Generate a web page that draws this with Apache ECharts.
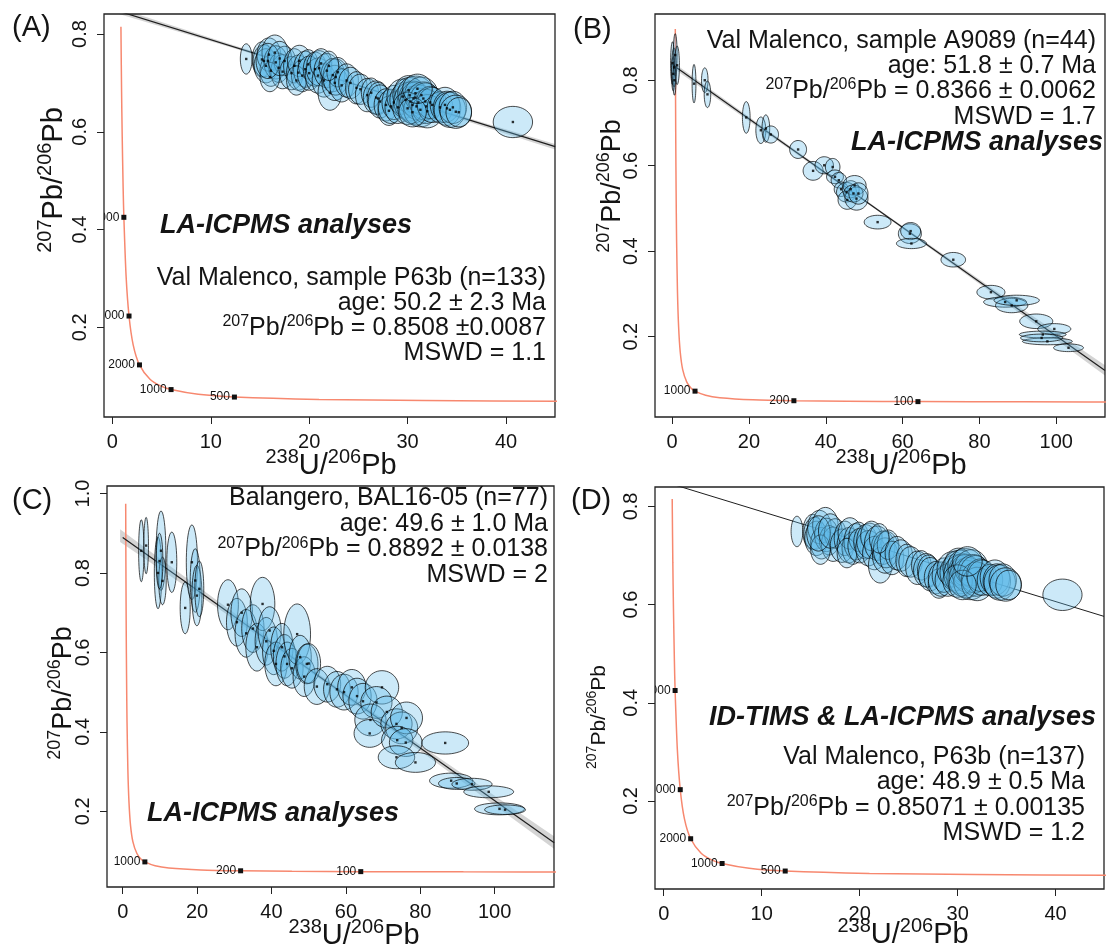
<!DOCTYPE html>
<html>
<head>
<meta charset="utf-8">
<script src="https://cdn.jsdelivr.net/npm/echarts@6/dist/echarts.min.js"></script>
<style>
  html, body { margin: 0; padding: 0; background: #fff; }
  #chart { width: 1106px; height: 949px; }
</style>
</head>
<body>
<div id="chart"></div>
<script>
// concordia curve (238U/206Pb, 207Pb/206Pb)
var concX = [0.806, 0.825, 0.853, 0.866, 0.878, 0.93, 0.99, 1.089, 1.163, 1.387, 1.688, 2.11, 2.75, 3.82, 4.89, 5.96, 8.72, 12.4, 21.0, 31.7, 45.5, 64.0, 91.6, 128.4];
var concY = [0.974, 0.920, 0.845, 0.815, 0.788, 0.685, 0.597, 0.486, 0.425, 0.306, 0.223, 0.164, 0.123, 0.0936, 0.080, 0.0725, 0.0628, 0.0572, 0.0523, 0.0501, 0.0488, 0.048, 0.0474, 0.047];

// age marks on the concordia (Ma)
var markAge = [4000, 3000, 2000, 1000, 500, 200, 100];
var markX = [1.163, 1.688, 2.75, 5.96, 12.4, 31.7, 64.0];
var markY = [0.425, 0.223, 0.123, 0.0725, 0.0572, 0.0501, 0.048];

// discordia lines (two ends) and their grey envelopes
var regAX = [0, 45], regAY = [0.8508, 0.5695];
var regBX = [0, 112.7], regBY = [0.8366, 0.121];
var regCX = [0, 116], regCY = [0.8892, 0.121];
var regDX = [0, 44.94], regDY = [0.85071, 0.576];

var bandAX = [0, 12, 25, 38, 46];
var bandAHi = [0.857, 0.779, 0.697, 0.617, 0.569];
var bandALo = [0.845, 0.773, 0.692, 0.609, 0.557];
var bandBX = [0, 30, 55, 85, 113];
var bandBHi = [0.843, 0.650, 0.490, 0.303, 0.131];
var bandBLo = [0.830, 0.642, 0.485, 0.291, 0.107];
var bandCX = [-0.7, 25, 50, 80, 116];
var bandCHi = [0.910, 0.733, 0.563, 0.367, 0.137];
var bandCLo = [0.878, 0.715, 0.553, 0.352, 0.105];

// error ellipses: [x, y, half width, half height]
var ellA = [
  [13.6,0.749,0.6,0.031],[15.2,0.748,1.0,0.036],[15.4,0.745,1.1,0.033],[15.6,0.735,1.2,0.035],
  [15.9,0.758,1.2,0.034],[16.1,0.725,1.1,0.032],[16.5,0.762,1.3,0.036],[16.6,0.742,1.2,0.034],
  [16.9,0.731,1.0,0.030],[17.3,0.723,1.2,0.035],[17.5,0.745,1.1,0.030],[16.0,0.712,1.0,0.030],
  [15.8,0.745,1.2,0.036],[17.0,0.750,1.2,0.035],[18.2,0.720,1.2,0.034],
  [18.5,0.735,1.1,0.035],[18.9,0.721,1.2,0.036],[19.0,0.745,1.2,0.032],[19.3,0.715,1.1,0.033],
  [19.6,0.728,1.2,0.037],[18.7,0.705,1.0,0.030],[19.9,0.738,1.0,0.030],[20.0,0.720,1.2,0.035],
  [20.6,0.728,1.2,0.035],[20.9,0.715,1.3,0.036],[21.0,0.730,1.3,0.036],[21.2,0.740,1.1,0.030],
  [21.5,0.705,1.2,0.034],[21.8,0.725,1.3,0.035],[22.1,0.680,1.2,0.036],[22.4,0.716,1.2,0.034],
  [22.6,0.700,1.3,0.036],[22.7,0.712,1.3,0.037],[22.9,0.722,1.1,0.030],[23.3,0.695,1.2,0.034],
  [22.0,0.735,1.0,0.030],[23.8,0.705,1.2,0.034],[24.2,0.700,1.2,0.032],[24.8,0.690,1.1,0.033],
  [25.2,0.687,1.2,0.031],[25.9,0.675,1.2,0.034],[26.3,0.680,1.0,0.030],[26.8,0.670,1.3,0.034],
  [27.0,0.668,1.1,0.033],[27.2,0.662,1.2,0.034],[27.8,0.655,1.2,0.033],[28.1,0.643,1.1,0.030],
  [28.3,0.652,1.3,0.035],[28.6,0.660,1.2,0.035],[29.0,0.650,1.3,0.033],[29.5,0.672,1.6,0.036],
  [29.8,0.665,1.6,0.037],[30.1,0.685,1.4,0.030],[30.2,0.675,1.7,0.036],[30.3,0.662,1.7,0.040],
  [30.5,0.655,1.6,0.038],[30.6,0.668,1.5,0.036],[30.8,0.679,1.8,0.035],[30.8,0.670,1.5,0.032],
  [30.9,0.652,1.8,0.038],[31.1,0.660,1.6,0.036],[31.3,0.645,1.7,0.035],[31.4,0.675,1.7,0.037],
  [31.6,0.668,1.6,0.034],[31.8,0.662,1.6,0.038],[30.0,0.648,1.5,0.033],[31.9,0.652,1.5,0.035],
  [32.0,0.642,1.6,0.034],[32.3,0.660,1.4,0.033],[32.5,0.655,1.5,0.036],[30.5,0.640,1.4,0.030],
  [31.0,0.688,1.5,0.030],[33.3,0.650,1.3,0.032],[33.8,0.655,1.5,0.036],[34.0,0.648,1.4,0.035],
  [34.3,0.645,1.6,0.036],[34.6,0.650,1.4,0.033],[34.9,0.641,1.6,0.034],[35.2,0.640,1.3,0.030],
  [40.7,0.620,2.0,0.032]
];
var ellB = [
  [0.1,0.840,0.5,0.05],[0.3,0.815,0.45,0.04],[0.5,0.830,0.6,0.045],[0.8,0.859,0.5,0.05],
  [1.3,0.835,0.6,0.045],[0.6,0.800,0.4,0.035],[5.7,0.792,0.5,0.045],[8.5,0.800,0.85,0.029],
  [9.2,0.767,0.85,0.031],[19.3,0.713,1.0,0.037],[23.1,0.683,1.3,0.031],[24.4,0.687,1.0,0.032],
  [25.7,0.673,2.0,0.020],[32.8,0.638,2.2,0.021],[36.7,0.588,2.6,0.022],[39.6,0.601,2.4,0.020],
  [41.8,0.597,1.9,0.020],[42.4,0.574,2.2,0.016],[43.4,0.566,2.0,0.018],[44.0,0.545,1.8,0.017],
  [45.4,0.538,2.6,0.023],[45.6,0.520,2.4,0.022],[46.5,0.545,2.2,0.020],[47.5,0.554,3.0,0.023],
  [48.0,0.523,3.0,0.027],[47.2,0.535,2.5,0.020],[48.5,0.535,2.5,0.025],[53.5,0.468,3.5,0.016],
  [61.9,0.441,3.0,0.023],[62.1,0.447,2.6,0.020],[62.3,0.418,3.9,0.012],[73.2,0.380,3.2,0.017],
  [83.0,0.304,3.65,0.016],[86.7,0.281,5.6,0.012],[88.4,0.273,4.2,0.017],[89.7,0.285,5.9,0.012],
  [94.8,0.236,4.3,0.017],[99.5,0.218,4.3,0.0125],[96.5,0.205,6.1,0.008],[97.7,0.189,6.5,0.008],
  [96.2,0.197,5.5,0.009],[103.2,0.174,3.9,0.009]
];
var ellC = [
  [5.0,0.856,0.72,0.078],[6.3,0.869,0.63,0.071],[9.5,0.800,1.0,0.09],[10.3,0.856,1.3,0.10],
  [10.7,0.780,1.0,0.06],[9.9,0.830,0.9,0.07],[13.2,0.827,1.34,0.076],[16.8,0.712,1.35,0.065],
  [18.6,0.827,1.5,0.094],[19.5,0.781,1.35,0.08],[19.95,0.743,1.35,0.076],[20.6,0.760,1.2,0.07],
  [28.3,0.720,2.8,0.063],[30.7,0.676,2.8,0.06],[32.0,0.700,2.9,0.06],[33.2,0.648,3.0,0.06],
  [35.0,0.660,3.0,0.06],[36.1,0.613,3.0,0.06],[37.6,0.722,3.3,0.067],[38.6,0.628,3.0,0.06],
  [39.5,0.655,3.1,0.06],[40.6,0.604,3.0,0.06],[41.2,0.571,3.0,0.055],[42.8,0.613,3.0,0.06],
  [43.5,0.590,3.0,0.055],[44.2,0.571,3.0,0.055],[45.5,0.560,3.0,0.05],[46.9,0.646,3.6,0.076],
  [47.7,0.588,3.0,0.055],[48.8,0.539,3.0,0.05],[49.5,0.571,3.0,0.05],[50.0,0.572,3.2,0.05],
  [52.2,0.514,3.4,0.045],[55.0,0.520,3.6,0.045],[57.6,0.507,3.6,0.045],[59.5,0.500,3.8,0.045],
  [61.6,0.512,3.8,0.045],[63.0,0.490,3.8,0.045],[64.6,0.477,3.8,0.045],[69.7,0.512,4.5,0.042],
  [68.2,0.474,4.2,0.04],[66.6,0.430,4.2,0.04],[66.4,0.396,4.2,0.035],[71.0,0.450,4.2,0.04],
  [73.6,0.420,4.2,0.038],[75.0,0.410,4.3,0.04],[76.3,0.435,4.3,0.04],[73.8,0.379,4.2,0.035],
  [76.1,0.373,4.4,0.035],[73.6,0.336,4.9,0.029],[78.7,0.323,5.4,0.025],[86.7,0.372,6.3,0.028],
  [88.3,0.277,5.8,0.019],[89.8,0.270,4.9,0.015],[93.9,0.268,5.4,0.015],[98.4,0.249,6.7,0.015],
  [101.3,0.206,6.7,0.015],[102.8,0.204,5.5,0.012]
];
var ellD = ellA;

// axis ticks
var ticksX45 = [0, 10, 20, 30, 40];
var ticksX100 = [0, 20, 40, 60, 80, 100];
var ticksY08 = [0.2, 0.4, 0.6, 0.8];
var ticksY10 = [0.2, 0.4, 0.6, 0.8, 1.0];

var FONT = "'Liberation Sans', Arial, Helvetica, sans-serif";
var INK = '#141414';

var chart = echarts.init(document.getElementById('chart'));

function grid(l, t, w, h) {
  return { left: l, top: t, width: w, height: h, show: true, borderColor: '#222', borderWidth: 1.3, backgroundColor: 'transparent' };
}

function xAx(idx, min, max, ticks) {
  return {
    type: 'value', gridIndex: idx, min: min, max: max, position: 'bottom',
    axisLine: { show: false, onZero: false },
    splitLine: { show: false },
    axisTick: { show: true, inside: false, length: 7, customValues: ticks, lineStyle: { color: '#222', width: 1 } },
    axisLabel: { show: true, margin: 15, fontSize: 20, color: INK, fontFamily: FONT, customValues: ticks,
      formatter: function (v) { return String(Math.round(v)); } }
  };
}

function yAx(idx, min, max, ticks) {
  return {
    type: 'value', gridIndex: idx, min: min, max: max, position: 'left',
    axisLine: { show: false, onZero: false },
    splitLine: { show: false },
    axisTick: { show: true, inside: false, length: 7, customValues: ticks, lineStyle: { color: '#222', width: 1 } },
    axisLabel: { show: true, margin: 14, rotate: 90, fontSize: 20, color: INK, fontFamily: FONT, customValues: ticks,
      formatter: function (v) { return v.toFixed(1); } }
  };
}

function concordia(idx, start) {
  var pts = [];
  for (var i = start; i < concX.length; i++) pts.push([concX[i], concY[i]]);
  return { type: 'line', xAxisIndex: idx, yAxisIndex: idx, data: pts, showSymbol: false, smooth: 0.25,
    lineStyle: { color: '#f7886f', width: 1.5 }, z: 2, silent: true };
}

function regLine(idx, xs, ys, w) {
  return { type: 'line', xAxisIndex: idx, yAxisIndex: idx, data: [[xs[0], ys[0]], [xs[1], ys[1]]],
    showSymbol: false, lineStyle: { color: '#1e1e1e', width: w }, z: 3, silent: true };
}

function band(idx, bx, hi, lo) {
  return { type: 'custom', xAxisIndex: idx, yAxisIndex: idx, clip: true, z: 2, silent: true,
    data: [[bx[0], hi[0]]],
    renderItem: function (params, api) {
      var pts = [];
      for (var i = 0; i < bx.length; i++) pts.push(api.coord([bx[i], hi[i]]));
      for (var j = bx.length - 1; j >= 0; j--) pts.push(api.coord([bx[j], lo[j]]));
      return { type: 'polygon', shape: { points: pts }, style: { fill: 'rgba(0,0,0,0.17)' } };
    } };
}

function ellipses(idx, data) {
  return { type: 'custom', xAxisIndex: idx, yAxisIndex: idx, clip: true, z: 4, silent: true,
    data: data,
    renderItem: function (params, api) {
      var cx = api.value(0), cy = api.value(1), rx = api.value(2), ry = api.value(3);
      var pts = [];
      for (var k = 0; k < 48; k++) {
        var a = k / 48 * 2 * Math.PI;
        pts.push(api.coord([cx + rx * Math.cos(a), cy + ry * Math.sin(a)]));
      }
      return { type: 'polygon', shape: { points: pts },
        style: { fill: 'rgba(95,188,232,0.32)', stroke: 'rgba(0,0,0,0.78)', lineWidth: 0.9 } };
    } };
}

function dots(idx, data) {
  return { type: 'scatter', xAxisIndex: idx, yAxisIndex: idx, symbol: 'rect', symbolSize: 2.4, z: 5, silent: true,
    data: data.map(function (e) { return [e[0], e[1]]; }), itemStyle: { color: '#000' } };
}

function marks(idx, ids) {
  return { type: 'custom', xAxisIndex: idx, yAxisIndex: idx, clip: true, z: 6, silent: true,
    data: ids.map(function (i) { return [markX[i], markY[i], markAge[i]]; }),
    renderItem: function (params, api) {
      var p = api.coord([api.value(0), api.value(1)]);
      return { type: 'group', children: [
        { type: 'rect', shape: { x: p[0] - 2.5, y: p[1] - 2.5, width: 5, height: 5 }, style: { fill: '#111' } },
        { type: 'text', x: p[0] - 4.5, y: p[1],
          style: { text: String(api.value(2)), fill: '#111', font: '12px ' + FONT,
            align: 'right', verticalAlign: 'middle', textAlign: 'right', textVerticalAlign: 'middle' } }
      ] };
    } };
}

// text helpers
function richStyle(main, sup, lh) {
  return {
    m: { fontSize: main, fontFamily: FONT, lineHeight: lh, fill: INK, color: INK },
    s: { fontSize: sup, fontFamily: FONT, lineHeight: sup, verticalAlign: 'top', fill: INK, color: INK }
  };
}
function txt(x, y, text, size, align, weight) {
  return { type: 'text', x: x, y: y, silent: true,
    style: { text: text, fill: INK, font: (weight || '') + ' ' + size + 'px ' + FONT,
      align: align, verticalAlign: 'middle', textAlign: align, textVerticalAlign: 'middle' } };
}
function rtxt(x, y, text, main, sup, lh, align, rot) {
  return { type: 'text', x: x, y: y, rotation: rot || 0, silent: true,
    style: { text: text, fill: INK, rich: richStyle(main, sup, lh),
      align: align, verticalAlign: 'middle', textAlign: align, textVerticalAlign: 'middle' } };
}
var UPB = '{s|238}{m|U/}{s|206}{m|Pb}';
var PBPB = '{s|207}{m|Pb/}{s|206}{m|Pb}';
var BI = 'italic bold';

var graphics = [
  // panel letters
  txt(12, 28, '(A)', 29, 'left'), txt(573, 30, '(B)', 29, 'left'),
  txt(12, 501, '(C)', 29, 'left'), txt(571, 501, '(D)', 29, 'left'),
  // axis titles
  rtxt(331, 466, UPB, 29, 20, 38, 'center'),
  rtxt(901, 466, UPB, 29, 20, 38, 'center'),
  rtxt(354, 936, UPB, 29, 20, 38, 'center'),
  rtxt(903, 935, UPB, 29, 20, 38, 'center'),
  rtxt(54, 180, PBPB, 29, 20, 38, 'center', Math.PI / 2),
  rtxt(613, 186, PBPB, 27, 18, 35, 'center', Math.PI / 2),
  rtxt(64, 693, PBPB, 27, 18, 35, 'center', Math.PI / 2),
  rtxt(599, 717, PBPB, 21, 14, 27, 'center', Math.PI / 2),
  // panel A
  txt(160, 225.5, 'LA-ICPMS analyses', 27, 'left', BI),
  txt(546, 278, 'Val Malenco, sample P63b (n=133)', 25, 'right'),
  txt(546, 303, 'age: 50.2 \u00b1 2.3 Ma', 25, 'right'),
  rtxt(546, 328, '{s|207}{m|Pb/}{s|206}{m|Pb = 0.8508 \u00b10.0087}', 25, 16, 29, 'right'),
  txt(546, 353.5, 'MSWD = 1.1', 25, 'right'),
  // panel B
  txt(1096, 41.3, 'Val Malenco, sample A9089 (n=44)', 25, 'right'),
  txt(1096, 66.3, 'age: 51.8 \u00b1 0.7 Ma', 25, 'right'),
  rtxt(1096, 91.3, '{s|207}{m|Pb/}{s|206}{m|Pb = 0.8366 \u00b1 0.0062}', 25, 16, 29, 'right'),
  txt(1096, 117.3, 'MSWD = 1.7', 25, 'right'),
  txt(1103, 142.2, 'LA-ICPMS analyses', 27, 'right', BI),
  // panel C
  txt(548, 498.5, 'Balangero, BAL16-05 (n=77)', 25, 'right'),
  txt(548, 524.6, 'age: 49.6 \u00b1 1.0 Ma', 25, 'right'),
  rtxt(548, 549.6, '{s|207}{m|Pb/}{s|206}{m|Pb = 0.8892 \u00b1 0.0138}', 25, 16, 29, 'right'),
  txt(548, 575.3, 'MSWD = 2', 25, 'right'),
  txt(147, 813.2, 'LA-ICPMS analyses', 27, 'left', BI),
  // panel D
  txt(1096, 717.2, 'ID-TIMS & LA-ICPMS analyses', 27, 'right', BI),
  txt(1085, 757.3, 'Val Malenco, P63b (n=137)', 25, 'right'),
  txt(1085, 782.3, 'age: 48.9 \u00b1 0.5 Ma', 25, 'right'),
  rtxt(1085, 808, '{s|207}{m|Pb/}{s|206}{m|Pb = 0.85071 \u00b1 0.00135}', 25, 16, 29, 'right'),
  txt(1085, 833, 'MSWD = 1.2', 25, 'right')
];

var option = {
  animation: false,
  backgroundColor: '#fff',
  grid: [grid(104, 14, 451, 403), grid(655, 14, 450, 403), grid(107, 486, 447, 401), grid(655, 487, 449, 402)],
  xAxis: [xAx(0, -0.855, 44.98, ticksX45), xAx(1, -4.46, 112.7, ticksX100), xAx(2, -4.22, 115.95, ticksX100), xAx(3, -0.89, 44.94, ticksX45)],
  yAxis: [yAx(0, 0.0164, 0.841, ticksY08), yAx(1, 0.012, 0.955, ticksY08), yAx(2, 0.0093, 1.019, ticksY10), yAx(3, 0.0206, 0.8396, ticksY08)],
  series: [
    concordia(0, 3), band(0, bandAX, bandAHi, bandALo), regLine(0, regAX, regAY, 1.2), ellipses(0, ellA), dots(0, ellA), marks(0, [0, 1, 2, 3, 4]),
    concordia(1, 1), band(1, bandBX, bandBHi, bandBLo), regLine(1, regBX, regBY, 1.2), ellipses(1, ellB), dots(1, ellB), marks(1, [3, 5, 6]),
    concordia(2, 0), band(2, bandCX, bandCHi, bandCLo), regLine(2, regCX, regCY, 1.2), ellipses(2, ellC), dots(2, ellC), marks(2, [3, 5, 6]),
    concordia(3, 3), regLine(3, regDX, regDY, 1), ellipses(3, ellD), marks(3, [0, 1, 2, 3, 4])
  ],
  graphic: graphics
};

chart.setOption(option);
</script>
</body>
</html>
